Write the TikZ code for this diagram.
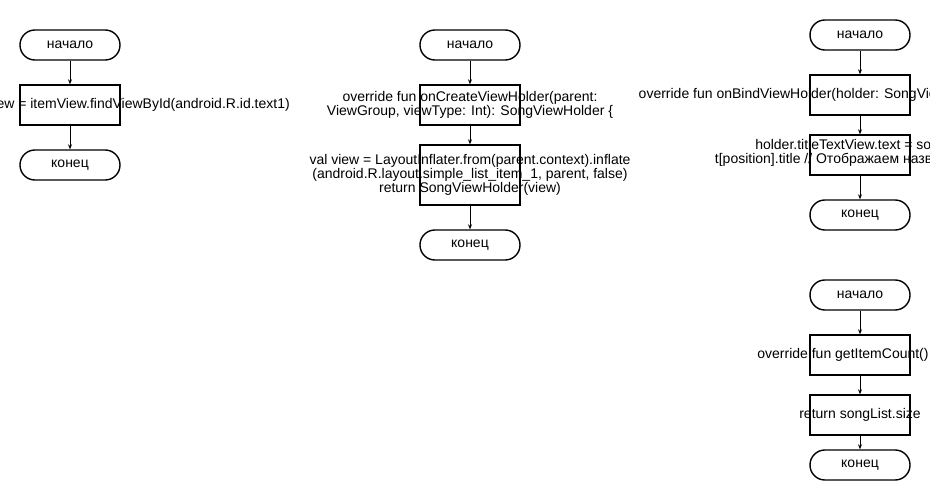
\documentclass[tikz,border=0pt]{standalone}
\usepackage{fontspec}
\setmainfont{Liberation Sans}
\usetikzlibrary{arrows.meta}
\tikzset{
  term/.style={draw,line width=1.4pt,rounded corners=14.9pt,minimum width=100pt,minimum height=30pt,inner sep=0pt,font=\fontsize{14}{14}\selectfont},
  proc/.style={draw,line width=1.4pt,minimum width=100pt,minimum height=40pt,inner sep=0pt},
  txt/.style={align=center,inner sep=0pt,font=\fontsize{14}{14}\selectfont},
  flow/.style={-{Stealth[length=5pt,width=4pt]},line width=0.9pt},
}
\begin{document}
\begin{tikzpicture}[x=1pt,y=-1pt]
    \clip(0,0)rectangle(930,500);
    % first column
    \node[term] (s1) at (70,45) {начало};
    \node[proc,label={[txt]center:{val titleTextView: TextView = itemView.findViewById(android.R.id.text1)}}] (b1) at (70,105) {};
    \node[term] (e1) at (70,165) {конец};
    % second column
    \node[term] (s2) at (470,45) {начало};
    \node[proc,label={[txt]center:{override fun onCreateViewHolder(parent:\\ViewGroup, viewType: Int): SongViewHolder \{}}] (b2) at (470,105) {};
    \node[proc,minimum height=60pt,label={[txt]center:{val view = LayoutInflater.from(parent.context).inflate\\(android.R.layout.simple\_list\_item\_1, parent, false)\\return SongViewHolder(view)}}] (c2) at (470,175) {};
    \node[term] (e2) at (470,245) {конец};
    % third column
    \node[term] (s3) at (860,35) {начало};
    \node[proc,label={[txt]center:{override fun onBindViewHolder(holder: SongViewHolder, position: Int) \{}}] (b3) at (860,95) {};
    \node[proc,label={[txt,yshift=2pt]center:{holder.titleTextView.text = songLis\\t[position].title // Отображаем название песни}}] (c3) at (860,155) {};
    \node[term] (e3) at (860,215) {конец};
    % fourth column
    \node[term] (s4) at (860,295) {начало};
    \node[proc,label={[txt,xshift=-17pt]center:{override fun getItemCount()}}] (b4) at (860,355) {};
    \node[proc,label={[txt]center:{return songList.size}}] (c4) at (860,415) {};
    \node[term] (e4) at (860,465) {конец};
    \foreach \a/\b in {s1/b1,b1/e1,s2/b2,b2/c2,c2/e2,s3/b3,b3/c3,c3/e3,s4/b4,b4/c4,c4/e4}
      \draw[flow](\a)--(\b);
  \end{tikzpicture}
\end{document}
